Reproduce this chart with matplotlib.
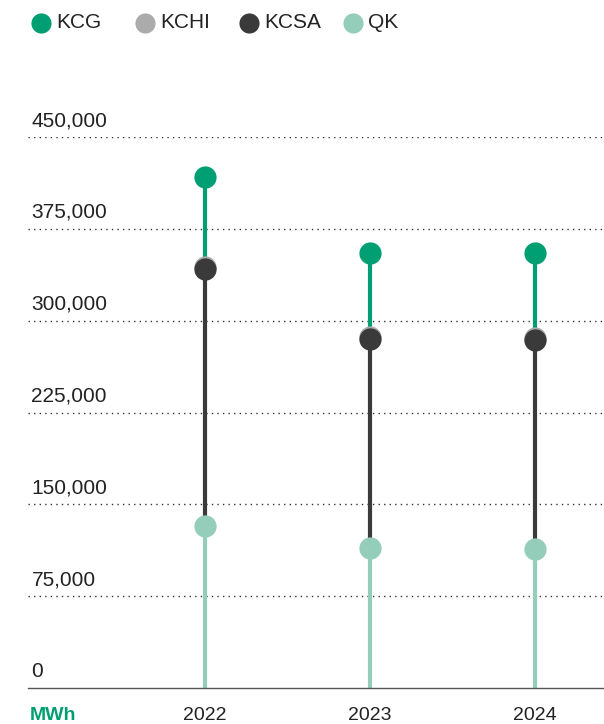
import numpy as np
import matplotlib.pyplot as plt
from matplotlib.lines import Line2D
from matplotlib.transforms import blended_transform_factory

plt.rcParams["font.family"] = ["Liberation Sans", "DejaVu Sans"]

years = [2022, 2023, 2024]
series = ["QK", "KCSA", "KCHI", "KCG"]
qk = [132000, 114000, 113500]
kcsa = [210000, 171000, 170500]
kchi = [2000, 2000, 2000]
kcg = [73000, 68000, 69000]
yticks = [0, 75000, 150000, 225000, 300000, 375000, 450000]
legend_order = ["KCG", "KCHI", "KCSA", "QK"]

COLORS = {
    "KCG": "#009e73",
    "KCHI": "#ababab",
    "KCSA": "#3a3a3a",
    "QK": "#94cdb9",
}

values = np.array([qk, kcsa, kchi, kcg], dtype=float)
tops = np.cumsum(values, axis=0)
bottoms = tops - values

W, H = 604, 724
fig = plt.figure(figsize=(W / 100, H / 100), dpi=100)
ax = fig.add_axes([28 / W, 1 - 688 / H, 576 / W, (688 - 137) / H])

# stacked stems
for i, name in enumerate(series):
    ax.vlines(years, bottoms[i], tops[i], color=COLORS[name], linewidth=3.0, zorder=2)

# dots, top series drawn first so lower ones sit on top
for i in [3, 2, 1, 0]:
    name = series[i]
    ax.plot(years, tops[i], "o", color=COLORS[name], markersize=16,
            markeredgewidth=0, linestyle="none", zorder=3 + (3 - i))

ax.set_ylim(0, 450000)
ax.set_xlim(2022 - 177 / 165, 2024 + 69 / 165)

for y in yticks[1:]:
    ax.axhline(y, color="#333333", linewidth=1.0, linestyle=(0, (1, 3)), zorder=1)

for s in ["top", "right", "left"]:
    ax.spines[s].set_visible(False)
ax.spines["bottom"].set_color("#555555")
ax.spines["bottom"].set_linewidth(1.0)

ax.set_yticks([])
ax.set_xticks(years)
ax.set_xticklabels([str(y) for y in years])
ax.tick_params(axis="x", length=0, pad=14, labelsize=14, colors="#222222")

trans = blended_transform_factory(ax.transAxes, ax.transData)
for y in yticks:
    ax.annotate(f"{y:,}", xy=(0.006, y), xycoords=trans, xytext=(0, 5),
                textcoords="offset points", ha="left", va="bottom",
                fontsize=15, color="#222222")

fig.text(30 / W, 1 - 715 / H, "MWh", color=COLORS["KCG"], fontsize=14,
         fontweight="bold", ha="left", va="center")

# legend row across the top
legend_x = [41, 145, 249, 353]
for x, name in zip(legend_x, legend_order):
    fig.add_artist(Line2D([x / W], [1 - 23 / H], marker="o", markersize=14.5,
                          markeredgewidth=0, color=COLORS[name],
                          transform=fig.transFigure))
    fig.text((x + 15) / W, 1 - 23 / H, name, fontsize=15, color="#222222",
             ha="left", va="center")

fig.savefig("out.png", dpi=100)
